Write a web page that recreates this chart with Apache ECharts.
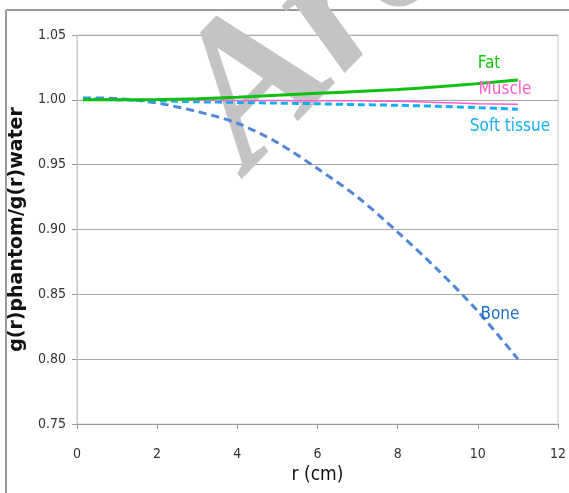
<!DOCTYPE html>
<html><head><meta charset="utf-8">
<script src="https://cdn.jsdelivr.net/npm/echarts@6/dist/echarts.min.js"></script>
<style>html,body{margin:0;padding:0;background:#fff}#c{width:569px;height:493px}</style>
</head><body><div id="c"></div>
<script>
const r = [0.15, 1, 2, 3, 4, 5, 6, 7, 8, 9, 10, 11];
const fat = [1.000, 1.000, 1.0002, 1.0008, 1.002, 1.0035, 1.005, 1.0065, 1.008, 1.010, 1.0125, 1.0153];
const muscle = [1.000, 1.000, 1.000, 0.9998, 0.9995, 0.9994, 0.9993, 0.9992, 0.999, 0.998, 0.997, 0.9965];
const softTissue = [1.001, 1.000, 0.9993, 0.9985, 0.998, 0.9975, 0.997, 0.9963, 0.9958, 0.995, 0.994, 0.9927];
const bone = [1.0015, 1.001, 0.9975, 0.991, 0.982, 0.967, 0.947, 0.925, 0.898, 0.869, 0.837, 0.800];
const yTicks = ['0.75','0.80','0.85','0.90','0.95','1.00','1.05'];
const xTicks = ['0','2','4','6','8','10','12'];

const pair = (xs, ys) => xs.map((x, i) => [x, ys[i]]);
const F = "'DejaVu Sans Condensed','Liberation Sans',sans-serif";

const chart = echarts.init(document.getElementById('c'), null, {renderer: 'canvas'});
chart.setOption({
  animation: false,
  backgroundColor: '#fff',
  grid: {left: 67, right: 11, top: 35, bottom: 69, show: true, borderColor: '#ccc', borderWidth: 1},
  xAxis: {
    type: 'value', min: 0, max: 12, interval: 2,
    axisLine: {show: true, lineStyle: {color: '#999', width: 1}},
    axisTick: {show: true, length: 5, lineStyle: {color: '#999'}},
    axisLabel: {margin: 23, color: '#333', fontFamily: F, fontSize: 14,
      formatter: v => xTicks[Math.round(v / 2)]},
    splitLine: {show: false},
    name: 'r (cm)', nameLocation: 'middle', nameGap: 30,
    nameTextStyle: {color: '#111', fontFamily: F, fontSize: 19}
  },
  yAxis: {
    type: 'value', min: 0.75, max: 1.05, interval: 0.05,
    axisLine: {show: true, lineStyle: {color: '#ccc', width: 1}},
    axisTick: {show: true, length: 5, lineStyle: {color: '#999'}},
    axisLabel: {margin: 11, color: '#333', fontFamily: F, fontSize: 14,
      formatter: v => yTicks[Math.round((v - 0.75) / 0.05)]},
    splitLine: {show: true, lineStyle: {color: '#a6a6a6', width: 1}},
    name: 'g(r)phantom/g(r)water', nameLocation: 'middle', nameGap: 33,
    nameTextStyle: {color: '#111', fontFamily: "'DejaVu Sans',sans-serif", fontSize: 19, fontWeight: 'bold'}
  },
  graphic: [
    {type: 'line', shape: {x1: 6, y1: 10, x2: 569, y2: 10}, style: {stroke: '#999', lineWidth: 2}, silent: true},
    {type: 'line', shape: {x1: 6, y1: 10, x2: 6, y2: 493}, style: {stroke: '#999', lineWidth: 2}, silent: true},
    {type: 'text', x: 140, y: 66, rotation: 0.8, z: 1, silent: true,
      style: {text: 'Arc', fill: '#c4c4c4', font: "italic bold 200px 'Liberation Serif', serif", textVerticalAlign: 'top', textAlign: 'left'}},
    {type: 'text', x: 489, y: 64, z: 10, style: {text: 'Fat', fill: '#13c313', font: "17px " + F, textAlign: 'center', textVerticalAlign: 'middle'}},
    {type: 'text', x: 505, y: 90, z: 10, style: {text: 'Muscle', fill: '#ff5ccc', font: "17px " + F, textAlign: 'center', textVerticalAlign: 'middle'}},
    {type: 'text', x: 510, y: 127, z: 10, style: {text: 'Soft tissue', fill: '#12b0ef', font: "17px " + F, textAlign: 'center', textVerticalAlign: 'middle'}},
    {type: 'text', x: 500, y: 315, z: 10, style: {text: 'Bone', fill: '#1f70c8', font: "17px " + F, textAlign: 'center', textVerticalAlign: 'middle'}}
  ],
  series: [
    {name: 'Bone', type: 'line', data: pair(r, bone), smooth: 0.3, showSymbol: false, z: 3,
      lineStyle: {color: '#4f86d8', width: 3, type: [8, 5]}},
    {name: 'Soft tissue', type: 'line', data: pair(r, softTissue), smooth: 0.3, showSymbol: false, z: 4,
      lineStyle: {color: '#10b0f0', width: 3, type: [7, 4]}},
    {name: 'Muscle', type: 'line', data: pair(r, muscle), smooth: 0.3, showSymbol: false, z: 5,
      lineStyle: {color: '#ff5ccc', width: 1.5}},
    {name: 'Fat', type: 'line', data: pair(r, fat), smooth: 0.3, showSymbol: false, z: 6,
      lineStyle: {color: '#10c010', width: 3}}
  ]
});
</script></body></html>
